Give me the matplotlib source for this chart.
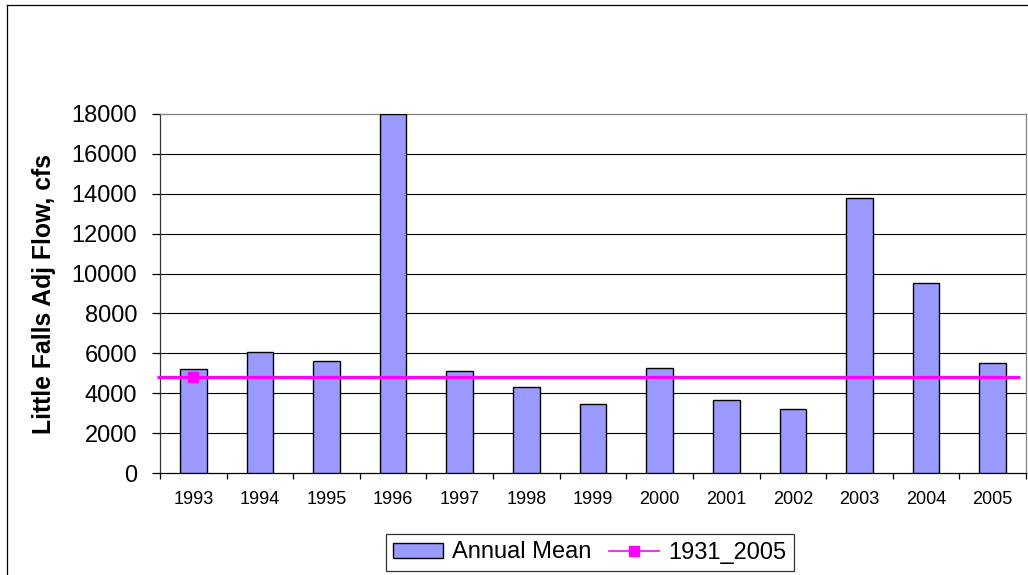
import matplotlib
matplotlib.use("Agg")
import matplotlib.pyplot as plt
from matplotlib.lines import Line2D
import numpy as np

plt.rcParams['font.family'] = ['Liberation Sans', 'DejaVu Sans']

years = ['1993', '1994', '1995', '1996', '1997', '1998', '1999',
         '2000', '2001', '2002', '2003', '2004', '2005']
annual_mean = [5200, 6080, 5610, 18000, 5110, 4290, 3470,
               5260, 3670, 3185, 13800, 9510, 5530]
long_term_mean = 4800          # 1931_2005 average flow
y_ticks = [0, 2000, 4000, 6000, 8000, 10000, 12000, 14000, 16000, 18000]

W, H = 1028, 575
fig = plt.figure(figsize=(W / 100, H / 100), dpi=100)
fig.patch.set_facecolor('white')

# chart border (left and top edges)
bx, by = 7 / W, 1 - 5 / H
fig.add_artist(Line2D([bx, bx], [0, by], color='black', lw=0.9, transform=fig.transFigure))
fig.add_artist(Line2D([bx, 1.0], [by, by], color='black', lw=0.9, transform=fig.transFigure))

left, right, top, bottom = 160, 1026, 114, 473
ax = fig.add_axes([left / W, 1 - bottom / H, (right - left) / W, (bottom - top) / H])

x = np.arange(len(years))
ax.bar(x, annual_mean, width=0.4, color='#9999FF', edgecolor='black',
       linewidth=1.0, zorder=3, label='Annual Mean')

# long-term mean line with its single marker
ax.plot([-0.545, 12.41], [long_term_mean, long_term_mean], color='#FF00FF',
        lw=2.3, zorder=4, clip_on=False, solid_capstyle='butt')
ax.plot([0], [long_term_mean], 's', color='#FF00FF', markersize=7.5, zorder=5)

ax.set_xlim(-0.5, len(years) - 0.5)
ax.set_ylim(0, 18000)

ax.set_yticks(y_ticks)
ax.set_yticklabels([str(v) for v in y_ticks], fontsize=17)
ax.tick_params(axis='y', direction='out', length=5.8, width=0.9, pad=10.5)

ax.set_xticks(x)
ax.set_xticklabels(years, fontsize=13)
ax.tick_params(axis='x', which='major', length=0, pad=13)
ax.set_xticks(np.arange(-0.5, len(years)), minor=True)
ax.tick_params(axis='x', which='minor', direction='out', length=4, width=0.9)

for v in y_ticks[1:-1]:
    ax.axhline(v, color='black', lw=0.8, zorder=1)

ax.spines['left'].set_color('#333333')
ax.spines['bottom'].set_color('black')
ax.spines['top'].set_color('#808080')
ax.spines['right'].set_color('#808080')
for s in ax.spines.values():
    s.set_linewidth(0.9)

ax.set_ylabel('Little Falls Adj Flow, cfs', fontsize=17.8, fontweight='bold')
ax.yaxis.set_label_coords((56 - left) / (right - left), 0.5)

handles = [
    plt.Rectangle((0, 0), 1, 1, facecolor='#9999FF', edgecolor='black', lw=1.0),
    Line2D([0], [0], color='#FF00FF', lw=1.2, marker='s', markersize=7.5),
]
leg = fig.legend(handles, ['Annual Mean', '1931_2005'], loc='center',
                 bbox_to_anchor=(590 / W, 1 - 552.5 / H), ncol=2, fontsize=17,
                 frameon=True, fancybox=False, edgecolor='black',
                 handlelength=2.1, handleheight=0.6, handletextpad=0.4,
                 columnspacing=0.75, borderpad=0.3, borderaxespad=0)
leg.get_frame().set_linewidth(0.9)

fig.savefig('out.png', dpi=100, facecolor='white')
